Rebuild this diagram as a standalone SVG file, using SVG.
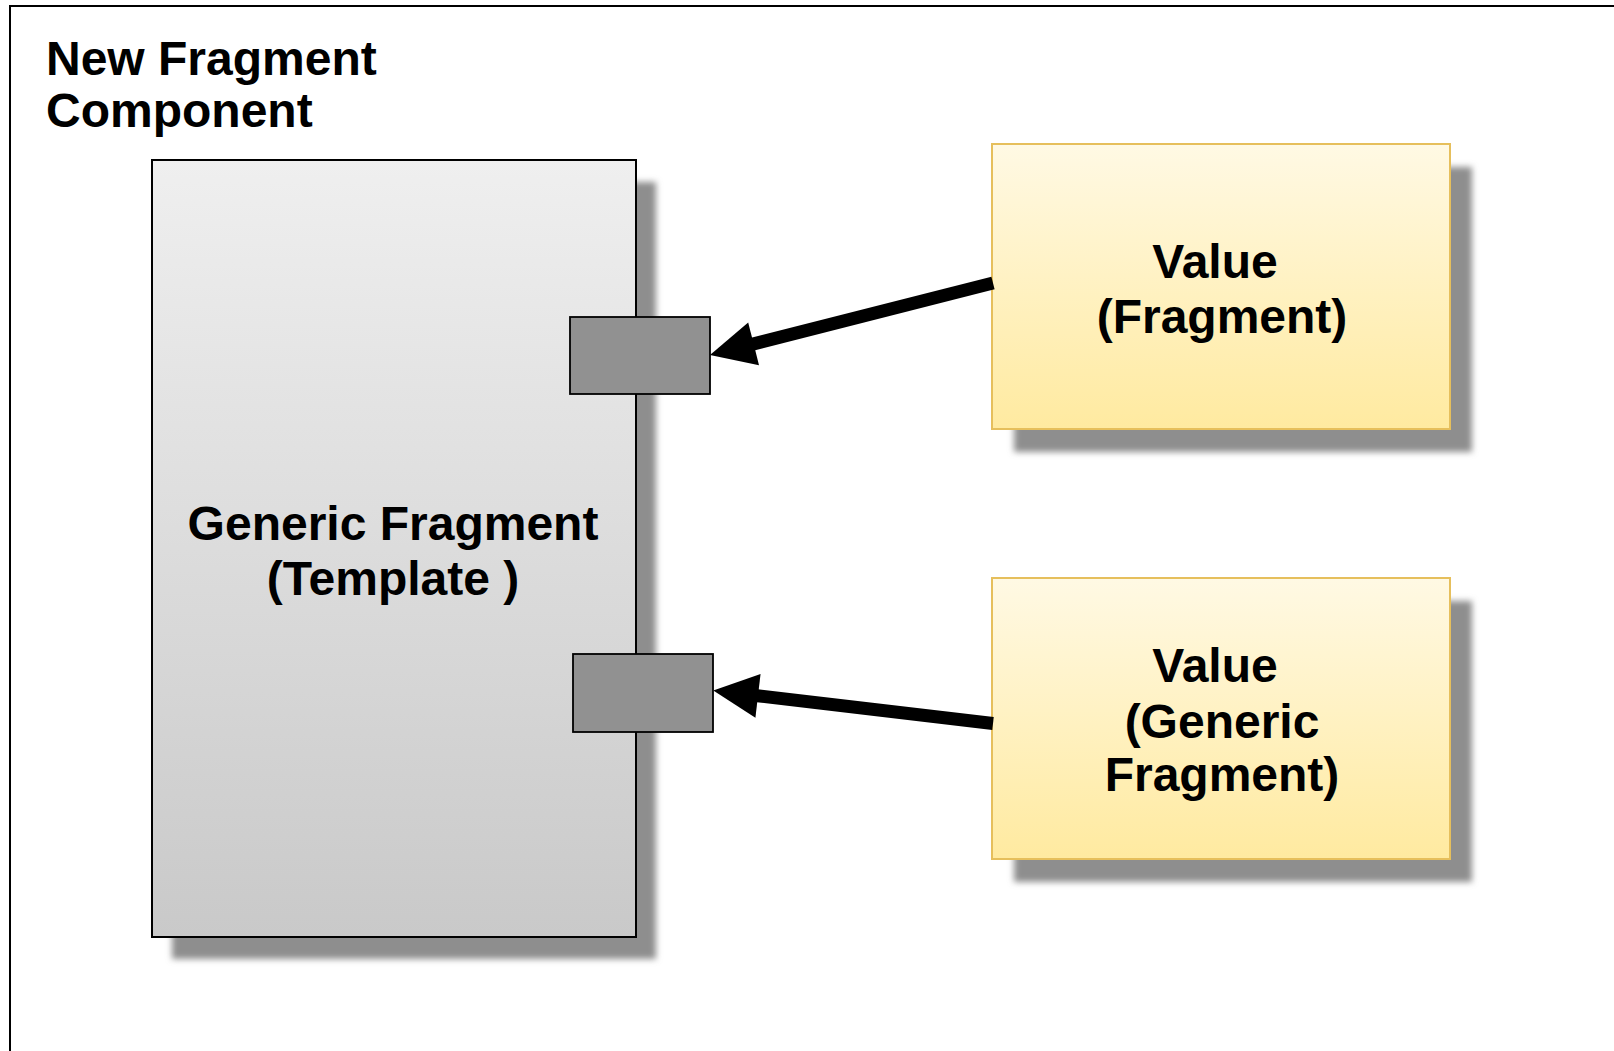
<svg xmlns="http://www.w3.org/2000/svg" width="1614" height="1051" viewBox="0 0 1614 1051">
  <defs>
    <linearGradient id="gGray" x1="0" y1="0" x2="0" y2="1">
      <stop offset="0" stop-color="#efefef"/>
      <stop offset="1" stop-color="#c9c9c9"/>
    </linearGradient>
    <linearGradient id="gYellow" x1="0" y1="0" x2="0" y2="1">
      <stop offset="0" stop-color="#fff9e4"/>
      <stop offset="1" stop-color="#ffeaa0"/>
    </linearGradient>
    <filter id="blur" x="-10%" y="-10%" width="120%" height="120%">
      <feGaussianBlur stdDeviation="3"/>
    </filter>
    <marker id="head" markerUnits="userSpaceOnUse" viewBox="0 -23 46 46" refX="3" refY="0" markerWidth="46" markerHeight="46" orient="auto" overflow="visible">
      <path d="M0,-22 L45,0 L0,22 Z" fill="#000"/>
    </marker>
  </defs>
  <style>
    .lbl { font-family: "Liberation Sans", Arial, sans-serif; font-weight: bold; font-size: 48px; fill: #000; }
    .mid { text-anchor: middle; }
    .shadow { fill: #8e8e8e; filter: url(#blur); }
    .tmpl { fill: url(#gGray); stroke: #000; stroke-width: 2; }
    .port { fill: #919191; stroke: #000; stroke-width: 1.8; }
    .val { fill: url(#gYellow); stroke: #e6bf5c; stroke-width: 2; }
    .conn { stroke: #000; stroke-width: 13; fill: none; marker-end: url(#head); }
  </style>

  <rect width="1614" height="1051" fill="#ffffff"/>

  <g id="frame">
    <rect x="10" y="6" width="1700" height="1100" fill="none" stroke="#000" stroke-width="2"/>
    <text class="lbl" x="46" y="75">New Fragment</text>
    <text class="lbl" x="46" y="127">Component</text>
  </g>

  <g id="template">
    <rect class="shadow" x="172" y="182" width="484" height="777"/>
    <rect class="tmpl" x="152" y="160" width="484" height="777"/>
    <text class="lbl mid" x="393" y="540">Generic Fragment</text>
    <text class="lbl mid" x="393" y="595">(Template )</text>
  </g>

  <g id="port1">
    <rect class="port" x="570" y="317" width="140" height="77"/>
  </g>

  <g id="port2">
    <rect class="port" x="573" y="654" width="140" height="78"/>
  </g>

  <g id="value1">
    <rect class="shadow" x="1014" y="167" width="458" height="285"/>
    <rect class="val" x="992" y="144" width="458" height="285"/>
    <text class="lbl mid" x="1215" y="278">Value</text>
    <text class="lbl mid" x="1222" y="333">(Fragment)</text>
  </g>

  <g id="value2">
    <rect class="shadow" x="1014" y="601" width="458" height="281"/>
    <rect class="val" x="992" y="578" width="458" height="281"/>
    <text class="lbl mid" x="1215" y="682">Value</text>
    <text class="lbl mid" x="1222" y="738">(Generic</text>
    <text class="lbl mid" x="1222" y="791">Fragment)</text>
  </g>

  <g id="connectors">
    <line class="conn" x1="993" y1="283" x2="750.7" y2="344.6"/>
    <line class="conn" x1="993" y1="723.5" x2="755" y2="695.5"/>
  </g>
</svg>
